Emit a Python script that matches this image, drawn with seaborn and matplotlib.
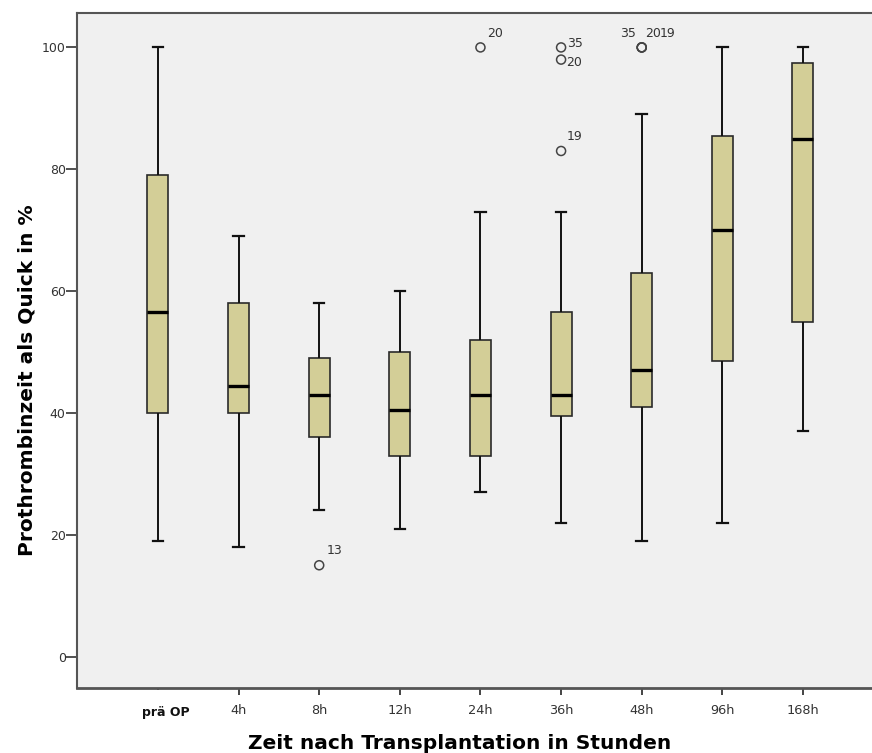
import numpy as np
import pandas as pd
import matplotlib
matplotlib.use("Agg")
import matplotlib.pyplot as plt
import matplotlib.transforms as mtransforms
import seaborn as sns

# ---- data ----
categories = ["prä OP", "4h", "8h", "12h", "24h", "36h", "48h", "96h", "168h"]
whisker_low = [19, 18, 24, 21, 27, 22, 19, 22, 37]
q1 = [40, 40, 36, 33, 33, 39.5, 41, 48.5, 55]
median = [56.5, 44.5, 43, 40.5, 43, 43, 47, 70, 85]
q3 = [79, 58, 49, 50, 52, 56.5, 63, 85.5, 97.5]
whisker_high = [100, 69, 58, 60, 73, 73, 89, 100, 100]

out_group = ["8h", "24h", "36h", "36h", "36h", "48h", "48h", "48h"]
out_value = [15, 100, 100, 98, 83, 100, 100, 100]
out_label = ["13", "20", "35", "20", "19", "35", "20", "19"]

y_ticks = [0, 20, 40, 60, 80, 100]
x_title = "Zeit nach Transplantation in Stunden"
y_title = "Prothrombinzeit als Quick in %"

# label placement (pixel offsets from each outlier marker) and alignment
label_offsets = [(7, 15), (7, 14), (6, 4), (5, -3), (6, 14), (-6, 14), (3, 14), (18, 14)]
label_ha = ["left", "left", "left", "left", "left", "right", "left", "left"]

# long-format table: five-number values per group
rows = []
for i, c in enumerate(categories):
    for v in (whisker_low[i], q1[i], median[i], q3[i], whisker_high[i]):
        rows.append({"Zeit": c, "Quick": v})
df = pd.DataFrame(rows)

plt.rcParams["font.family"] = ["DejaVu Sans"]

fig = plt.figure(figsize=(8.72, 7.53), dpi=100)
ax = fig.add_axes([77.3 / 872, (753 - 687.7) / 753, (872 - 77.3) / 872, (687.7 - 13.3) / 753])
ax.set_facecolor("#F0F0F0")

sns.boxplot(
    data=df, x="Zeit", y="Quick", order=categories,
    color="#D3CE97", saturation=1, width=0.26, whis=(0, 100),
    linewidth=1.2, linecolor="#2a2a2a", showfliers=False,
    medianprops=dict(color="black", linewidth=2.4),
    whiskerprops=dict(color="#111111", linewidth=1.4),
    capprops=dict(color="#111111", linewidth=1.6),
    ax=ax,
)

sns.stripplot(
    x=out_group, y=out_value, order=categories, jitter=False,
    color="#444444", facecolor="none", edgecolor="#444444",
    linewidth=1.1, size=6.5, ax=ax, zorder=4,
)
for coll in ax.collections:
    coll.set_facecolor("none")

for g, v, lab, off, ha in zip(out_group, out_value, out_label, label_offsets, label_ha):
    ax.annotate(lab, xy=(categories.index(g), v), xytext=off,
                textcoords="offset pixels", ha=ha, va="center",
                fontsize=9, color="#333333")

ax.set_xlim(-1.0, 8.856)
ax.set_ylim(-5.1, 105.6)
ax.set_yticks(y_ticks)
ax.set_yticklabels([str(t) for t in y_ticks])

ax.tick_params(axis="y", length=7.6, width=1.2, color="#333333", pad=0.8,
               labelsize=9, labelcolor="#333333")
ax.tick_params(axis="x", length=5, width=1.4, color="#444444", pad=6.5,
               labelsize=9.3, labelcolor="#333333")

ticks = ax.xaxis.get_major_ticks()
ticks[0].tick1line.set_markersize(1.5)
first = ax.get_xticklabels()[0]
first.set_fontweight("bold")
first.set_fontsize(9)
first.set_color("#111111")
first.set_transform(first.get_transform() +
                    mtransforms.ScaledTranslation(8 / 100, -2 / 100, fig.dpi_scale_trans))

for side in ("left", "bottom", "top"):
    ax.spines[side].set_color("#555555")
ax.spines["left"].set_linewidth(1.5)
ax.spines["bottom"].set_linewidth(2.0)
ax.spines["top"].set_linewidth(1.5)
ax.spines["right"].set_visible(False)

ax.set_xlabel(x_title, fontsize=14.5, fontweight="bold", color="black")
ax.set_ylabel(y_title, fontsize=14.5, fontweight="bold", color="black")
ax.xaxis.set_label_coords(0.481, -0.0687)
ax.xaxis.label.set_va("top")
ax.yaxis.set_label_coords(-0.051, 0.456)

fig.savefig("out.png", dpi=100, facecolor="white")
